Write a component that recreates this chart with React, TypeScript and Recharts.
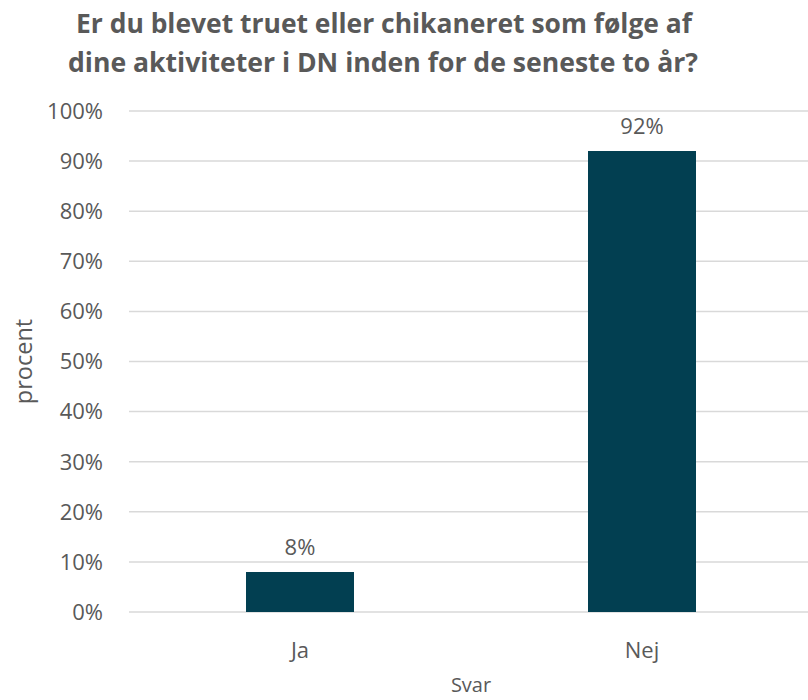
import { BarChart, Bar, XAxis, YAxis, CartesianGrid, LabelList } from 'recharts';

const categories = ['Ja', 'Nej'];
const values = [8, 92];
const yTicks = [0, 10, 20, 30, 40, 50, 60, 70, 80, 90, 100];
const titleLines = [
  'Er du blevet truet eller chikaneret som følge af',
  'dine aktiviteter i DN inden for de seneste to år?',
];

const chartData = categories.map((name, i) => ({ name, value: values[i] }));

const FONT = "'Open Sans', sans-serif";
const TEXT = '#595959';
const BAR = '#023f51';

const YLabel = ({ viewBox }: any) => {
  const cy = viewBox ? viewBox.y + viewBox.height / 2 : 361;
  return (
    <text
      x={32}
      y={cy}
      transform={`rotate(-90, 32, ${cy})`}
      textAnchor="middle"
      fill={TEXT}
      fontSize={23.5}
      fontFamily={FONT}
    >
      procent
    </text>
  );
};

const XLabel = ({ viewBox }: any) => {
  const cx = viewBox ? viewBox.x + viewBox.width / 2 : 471;
  return (
    <text x={cx} y={692} textAnchor="middle" fill={TEXT} fontSize={20} fontFamily={FONT}>
      Svar
    </text>
  );
};

export default function App() {
  return (
    <div style={{ position: 'fixed', left: 0, top: 0, width: 808, height: 700, overflow: 'hidden', background: '#fff' }}>
      {/* title, squeezed to the width of the original Calibri text */}
      <svg width={808} height={90} style={{ position: 'absolute', left: 0, top: 0 }}>
        <text x={384} y={33} textAnchor="middle" textLength={616} lengthAdjust="spacingAndGlyphs"
          fill={TEXT} fontSize={26} fontWeight={700} fontFamily={FONT}>
          {titleLines[0]}
        </text>
        <text x={383} y={72} textAnchor="middle" textLength={630} lengthAdjust="spacingAndGlyphs"
          fill={TEXT} fontSize={26} fontWeight={700} fontFamily={FONT}>
          {titleLines[1]}
        </text>
      </svg>

      <div style={{ position: 'absolute', left: 0, top: 0 }}>
        <BarChart
          width={813}
          height={700}
          data={chartData}
          margin={{ top: 111, right: 0, bottom: 0, left: 0 }}
        >
          <CartesianGrid vertical={false} stroke="#d9d9d9" strokeWidth={1.5} />
          <XAxis
            dataKey="name"
            height={88}
            axisLine={false}
            tickLine={false}
            tickSize={0}
            tickMargin={30}
            tick={{ fill: TEXT, fontSize: 22, fontFamily: FONT }}
            label={<XLabel />}
          />
          <YAxis
            width={129}
            domain={[0, 100]}
            ticks={yTicks}
            interval={0}
            axisLine={false}
            tickLine={false}
            tickSize={0}
            tickMargin={26}
            tickFormatter={(v) => `${v}%`}
            tick={{ fill: TEXT, fontSize: 22, fontFamily: FONT }}
            label={<YLabel />}
          />
          <Bar dataKey="value" fill={BAR} barSize={108} isAnimationActive={false}>
            <LabelList
              dataKey="value"
              position="top"
              offset={17}
              formatter={(v: any) => `${v}%`}
              fill={TEXT}
              fontSize={22}
              fontFamily={FONT}
            />
          </Bar>
        </BarChart>
      </div>
    </div>
  );
}
